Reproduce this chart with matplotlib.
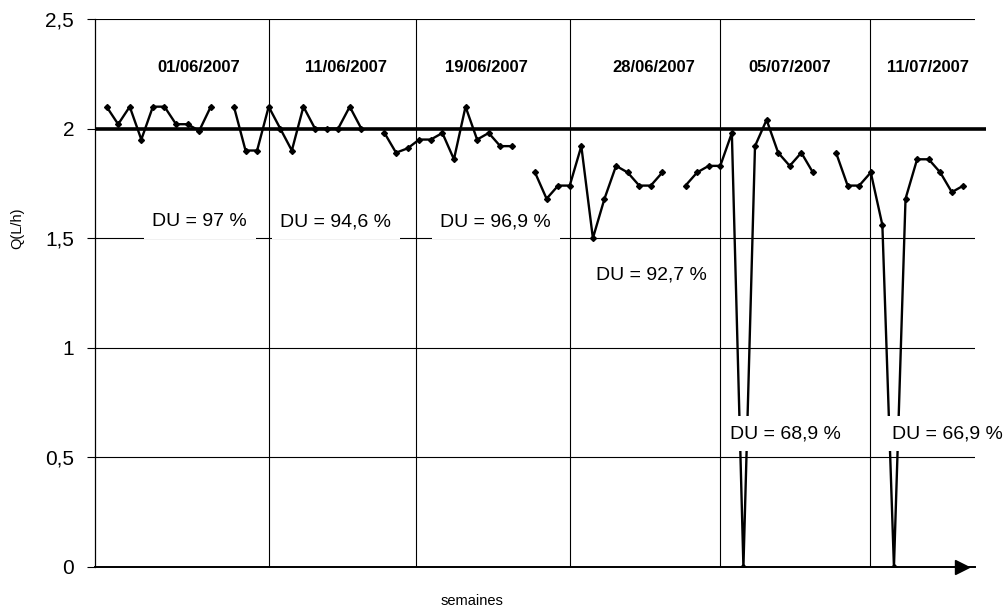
import numpy as np
import matplotlib
matplotlib.use("Agg")
import matplotlib.pyplot as plt

plt.rcParams['font.family'] = ['Liberation Sans', 'DejaVu Sans']

# ---- data ----
nan = np.nan
flow_values = [2.1, 2.02, 2.1, 1.95, 2.1, 2.1, 2.02, 2.02, 1.99, 2.1,
               nan,
               2.1, 1.9, 1.9, 2.1, 2.0, 1.9, 2.1, 2.0, 2.0, 2.0, 2.1, 2.0,
               nan,
               1.98, 1.89, 1.91, 1.95, 1.95, 1.98, 1.86, 2.1, 1.95, 1.98, 1.92, 1.92,
               nan,
               1.8, 1.68, 1.74, 1.74, 1.92, 1.5, 1.68, 1.83, 1.8, 1.74, 1.74, 1.8,
               nan,
               1.74, 1.8, 1.83, 1.83, 1.98, 0.0, 1.92, 2.04, 1.89, 1.83, 1.89, 1.8,
               nan,
               1.89, 1.74, 1.74, 1.8, 1.56, 0.0, 1.68, 1.86, 1.86, 1.8, 1.71, 1.74]
nominal_flow = 2.0
dates = ["01/06/2007", "11/06/2007", "19/06/2007", "28/06/2007", "05/07/2007", "11/07/2007"]
date_pos = [8.0, 20.7, 32.8, 47.3, 59.0, 70.9]
du_labels = ["DU = 97 %", "DU = 94,6 %", "DU = 96,9 %", "DU = 92,7 %", "DU = 68,9 %", "DU = 66,9 %"]
du_x = [8.05, 19.8, 33.6, 47.07, 58.6, 72.65]
du_y = [1.574, 1.574, 1.574, 1.333, 0.608, 0.608]
week_separators = [14, 26.75, 40, 52.95, 65.9]
yticks = [0, 0.5, 1, 1.5, 2, 2.5]
ytick_labels = ["0", "0,5", "1", "1,5", "2", "2,5"]

x = np.arange(len(flow_values))
y = np.array(flow_values, dtype=float)

fig = plt.figure(figsize=(10.08, 6.10), dpi=100)
ax = fig.add_axes([95/1008, 1-567/610, 880/1008, 548/610])
ax.set_xlim(-1, 75)
ax.set_ylim(0, 2.5)

# horizontal gridlines
for g in [0.5, 1.0, 1.5, 2.5]:
    ax.axhline(g, color='black', lw=0.8, zorder=1)
# thick nominal line
ax.plot([0, 1.0125], [nominal_flow/2.5]*2, transform=ax.transAxes, color='black',
        lw=2.6, clip_on=False, zorder=2, solid_capstyle='butt')

# data
ax.plot(x, y, color='black', lw=1.7, marker='D', ms=3, zorder=3)

# DU labels
for lx, ly, t in zip(du_x, du_y, du_labels):
    ax.text(lx, ly, t, ha='center', va='center', fontsize=14, zorder=4,
            bbox=dict(boxstyle='square,pad=0.45', fc='white', ec='none'))

# week separators
for s in week_separators:
    ax.axvline(s, color='black', lw=0.8, zorder=5)

# date labels
for dx, d in zip(date_pos, dates):
    ax.text(dx, 2.279, d, ha='center', va='center', fontsize=12, fontweight='bold', zorder=6)

# spines
for side in ['top', 'right']:
    ax.spines[side].set_visible(False)
ax.spines['left'].set_linewidth(0.9)
ax.spines['bottom'].set_linewidth(1.4)
ax.spines['bottom'].set_zorder(6)
ax.plot([0.9847], [0], marker='>', ms=10, color='black', transform=ax.transAxes,
        clip_on=False, zorder=7)

ax.set_xticks([])
ax.set_yticks(yticks)
ax.set_yticklabels(ytick_labels, fontsize=15)
ax.tick_params(axis='y', direction='out', length=6, width=0.8, pad=9)

fig.text(17/1008, 1-228/610, "Q(L/h)", rotation=90, ha='center', va='center', fontsize=10.5)
fig.text(472/1008, 1-601/610, "semaines", ha='center', va='center', fontsize=10.5)

fig.savefig("out.png", dpi=100)
